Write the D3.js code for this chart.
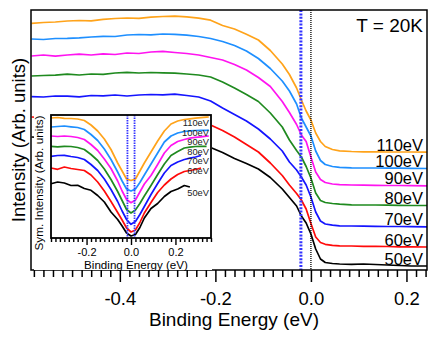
<!DOCTYPE html>
<html>
<head>
<meta charset="utf-8">
<script src="https://cdn.jsdelivr.net/npm/d3@7"></script>
<style>
  body { margin: 0; background: #fff; }
  svg { display: block; font-family: "Liberation Sans", Arial, sans-serif; }
</style>
</head>
<body>
<svg id="chart" width="442" height="339"></svg>
<script>
// ---- data: main panel (EDCs, arb. units) ----
const energyMain = [-0.585, -0.56, -0.535, -0.51, -0.485, -0.46, -0.435, -0.41, -0.385, -0.36,
  -0.335, -0.31, -0.285, -0.26, -0.235, -0.21, -0.185, -0.16, -0.135, -0.11,
  -0.085, -0.06, -0.045, -0.03, -0.02, -0.01, 0, 0.01, 0.02, 0.03,
  0.045, 0.06, 0.085, 0.11, 0.135, 0.16, 0.185, 0.21, 0.243];

const edc110 = [24.67, 24.75, 24.80, 24.90, 24.95, 24.92, 25.07, 25.15, 25.20, 25.17, 25.28, 25.35, 25.38, 25.32, 25.18, 24.98, 24.45, 24.10, 23.58, 23.00, 21.95, 20.60, 19.55, 18.20, 17.00, 15.90, 15.00, 13.70, 12.85, 12.35, 12.05, 11.92, 11.85, 11.82, 11.82, 11.80, 11.80, 11.80, 11.78];
const edc100 = [23.10, 23.05, 23.15, 23.17, 23.22, 23.30, 23.37, 23.35, 23.50, 23.55, 23.52, 23.60, 23.57, 23.48, 23.35, 23.15, 22.85, 22.45, 21.90, 21.15, 20.15, 18.90, 17.90, 16.60, 15.20, 14.30, 13.40, 11.90, 10.95, 10.55, 10.35, 10.27, 10.22, 10.20, 10.20, 10.18, 10.18, 10.17, 10.15];
const edc90 = [21.40, 21.50, 21.38, 21.50, 21.58, 21.50, 21.62, 21.55, 21.70, 21.65, 21.80, 21.87, 21.75, 21.65, 21.50, 21.25, 21.00, 20.55, 20.00, 19.25, 18.35, 16.85, 15.75, 14.55, 13.50, 12.85, 11.30, 9.80, 9.05, 8.75, 8.60, 8.53, 8.50, 8.48, 8.47, 8.45, 8.45, 8.43, 8.42];
const edc80 = [19.40, 19.45, 19.48, 19.58, 19.50, 19.60, 19.57, 19.70, 19.77, 19.70, 19.75, 19.72, 19.68, 19.60, 19.50, 19.30, 18.80, 18.20, 17.55, 16.85, 15.70, 14.30, 13.00, 11.95, 11.30, 10.35, 9.20, 7.70, 6.95, 6.75, 6.65, 6.58, 6.52, 6.50, 6.50, 6.48, 6.47, 6.45, 6.45];
const edc70 = [17.33, 17.30, 17.40, 17.38, 17.32, 17.45, 17.42, 17.50, 17.40, 17.50, 17.55, 17.52, 17.58, 17.45, 17.30, 16.90, 16.20, 15.55, 14.90, 14.10, 13.10, 11.90, 10.80, 10.00, 9.30, 8.50, 7.30, 5.80, 4.90, 4.60, 4.48, 4.42, 4.40, 4.38, 4.37, 4.35, 4.35, 4.33, 4.32];
const edc60 = [15.30, 15.25, 15.35, 15.32, 15.40, 15.35, 15.45, 15.40, 15.48, 15.42, 15.50, 15.45, 15.35, 15.15, 14.85, 14.50, 13.95, 13.30, 12.55, 11.80, 10.70, 9.45, 8.50, 7.65, 7.00, 6.10, 4.65, 3.30, 2.75, 2.57, 2.47, 2.42, 2.40, 2.37, 2.37, 2.35, 2.32, 2.32, 2.30];
const edc50 = [13.30, 13.25, 13.30, 13.35, 13.28, 13.35, 13.32, 13.40, 13.32, 13.37, 13.30, 13.35, 13.20, 13.00, 12.65, 12.25, 11.75, 11.15, 10.65, 10.10, 9.25, 8.10, 7.25, 6.40, 5.40, 4.70, 3.60, 2.10, 1.10, 0.75, 0.65, 0.60, 0.57, 0.60, 0.55, 0.50, 0.45, 0.40, 0.40];

// ---- data: inset (symmetrized) ----
const energyInset = [-0.36, -0.33, -0.3, -0.27, -0.24, -0.21, -0.18, -0.15, -0.12, -0.09,
  -0.06, -0.04, -0.02, 0, 0.02, 0.04, 0.06, 0.09, 0.12, 0.15,
  0.18, 0.21, 0.24, 0.265, 0.29, 0.315, 0.34, 0.35];

const sym110 = [12.00, 12.05, 11.97, 11.95, 11.90, 11.75, 11.30, 10.70, 9.90, 8.85, 7.50, 6.70, 5.90, 5.75, 5.90, 6.70, 7.50, 8.60, 9.70, 10.70, 11.40, 11.70, 11.85, 11.92, 11.98, 12.04, 12.08, 12.10];
const sym100 = [11.10, 11.15, 11.20, 11.12, 11.05, 10.85, 10.35, 9.75, 8.90, 7.85, 6.60, 5.70, 4.90, 4.70, 4.90, 5.55, 6.30, 7.40, 8.50, 9.60, 10.20, 10.50, 10.65, 10.72, 10.75, 10.77, 10.77, 10.80];
const sym90 = [10.20, 10.15, 10.20, 10.15, 10.05, 9.85, 9.35, 8.75, 7.90, 6.95, 5.70, 4.70, 3.85, 3.53, 3.80, 4.60, 5.40, 6.25, 7.35, 8.50, 9.25, 9.65, 9.85, 9.98, 10.07, 10.12, 10.18, 10.20];
const sym80 = [9.17, 9.12, 9.17, 9.15, 9.05, 8.85, 8.35, 7.75, 6.90, 5.85, 4.65, 3.75, 2.85, 2.50, 2.80, 3.45, 4.20, 5.25, 6.35, 7.40, 8.25, 8.65, 9.00, 9.08, 9.15, 9.17, 9.17, null];
const sym70 = [8.17, 8.25, 8.27, 8.15, 8.05, 7.85, 7.35, 6.75, 5.90, 4.85, 3.65, 2.70, 1.85, 1.37, 1.65, 2.35, 3.15, 4.35, 5.45, 6.50, 7.25, 7.60, 7.85, 7.98, 8.10, 8.25, null, null];
const sym60 = [7.00, 6.87, 7.10, 6.95, 6.85, 6.75, 6.30, 5.60, 4.70, 3.65, 2.55, 1.80, 1.00, 0.60, 0.80, 1.55, 2.50, 3.55, 4.55, 5.30, 5.90, 6.35, 6.65, 6.75, 6.85, 7.00, null, null];
const sym50 = [5.43, 5.60, 5.50, 5.25, 5.27, 4.95, 4.77, 4.25, 3.60, 2.60, 1.85, 1.20, 0.50, 0.20, 0.35, 1.05, 2.00, 2.95, 3.45, 4.15, 4.65, 4.90, 5.25, 5.10, null, null, null, null];

const photonLabels = ["110eV", "100eV", "90eV", "80eV", "70eV", "60eV", "50eV"];
const seriesColors = ["#ffa31a", "#1e8fff", "#ff14f0", "#1f8a1f", "#1414ff", "#ff0a0a", "#000000"];
const edcSeries = [edc110, edc100, edc90, edc80, edc70, edc60, edc50];
const symSeries = [sym110, sym100, sym90, sym80, sym70, sym60, sym50];

const leadingEdgeShift = -0.021;   // blue dotted marker in main panel
const insetGapEdges = [-0.016, 0.016];

const mainMajorTicks = [-0.4, -0.2, 0.0, 0.2];
const mainMajorLabels = ["-0.4", "-0.2", "0.0", "0.2"];
const insetMajorTicks = [-0.2, 0.0, 0.2];
const insetMajorLabels = ["-0.2", "0.0", "0.2"];

// ---- layout ----
const svg = d3.select("#chart");
const plot = { left: 31, right: 427, top: 10, bottom: 270 };
const x = d3.scaleLinear().domain([-0.586, 0.243]).range([plot.left, plot.right]);
const y = d3.scaleLinear().domain([0, 26]).range([plot.bottom, plot.top]);

// main curves
const edcLine = d3.line()
  .x((d, i) => x(energyMain[i]))
  .y(d => y(d));

edcSeries.forEach((s, k) => {
  svg.append("path")
    .attr("d", edcLine(s))
    .attr("fill", "none")
    .attr("stroke", seriesColors[k])
    .attr("stroke-width", 1.7)
    .attr("stroke-linejoin", "round");
});

// vertical markers
svg.append("line")
  .attr("x1", x(leadingEdgeShift)).attr("x2", x(leadingEdgeShift))
  .attr("y1", plot.top).attr("y2", plot.bottom)
  .attr("stroke", "#3434ff").attr("stroke-width", 3)
  .attr("stroke-dasharray", "2,1.4");
svg.append("line")
  .attr("x1", x(0)).attr("x2", x(0))
  .attr("y1", plot.top).attr("y2", plot.bottom)
  .attr("stroke", "#000").attr("stroke-width", 1.3)
  .attr("stroke-dasharray", "1,1");

// photon energy labels on the right
edcSeries.forEach((s, k) => {
  svg.append("text")
    .attr("x", 423)
    .attr("y", y(s[s.length - 1]) - 1.5)
    .attr("text-anchor", "end")
    .style("font-size", "16.5px")
    .text(photonLabels[k]);
});

svg.append("text")
  .attr("x", 423).attr("y", 32)
  .attr("text-anchor", "end")
  .style("font-size", "19px")
  .text("T = 20K");

// frame
svg.append("rect")
  .attr("x", plot.left).attr("y", plot.top)
  .attr("width", plot.right - plot.left).attr("height", plot.bottom - plot.top)
  .attr("fill", "none").attr("stroke", "#000").attr("stroke-width", 1.5);

// main x axis
const mainMinor = d3.range(-58, 25, 2).map(v => v / 100)
  .filter(v => !mainMajorTicks.some(m => Math.abs(m - v) < 1e-6));

const minorAxis = svg.append("g")
  .attr("transform", `translate(0,${plot.bottom})`)
  .call(d3.axisBottom(x).tickValues(mainMinor).tickSize(7).tickFormat(""));
const majorAxis = svg.append("g")
  .attr("transform", `translate(0,${plot.bottom})`)
  .call(d3.axisBottom(x).tickValues(mainMajorTicks).tickSize(12).tickPadding(10)
    .tickFormat((d, i) => mainMajorLabels[i]));
[minorAxis, majorAxis].forEach(g => {
  g.select(".domain").remove();
  g.selectAll(".tick line").attr("stroke", "#000").attr("stroke-width", 1.5);
});
majorAxis.selectAll("text")
  .attr("fill", "#000")
  .style("font-size", "18.5px")
  .style("font-family", "'Liberation Sans', Arial, sans-serif");

svg.append("text")
  .attr("x", 234).attr("y", 326)
  .attr("text-anchor", "middle")
  .style("font-size", "19px")
  .text("Binding Energy (eV)");

svg.append("text")
  .attr("transform", "translate(25,140) rotate(-90)")
  .attr("text-anchor", "middle")
  .style("font-size", "18.5px")
  .text("Intensity (Arb. units)");

// ---- inset ----
const inset = { left: 51, right: 211, top: 115, bottom: 238 };
const xi = d3.scaleLinear().domain([-0.36, 0.36]).range([inset.left, inset.right]);
const yi = d3.scaleLinear().domain([0, 12.3]).range([inset.bottom, inset.top]);

svg.append("rect")
  .attr("x", 34).attr("y", 112)
  .attr("width", inset.right + 1 - 34).attr("height", 158)
  .attr("fill", "#fff");

const symLine = d3.line()
  .defined(d => d != null)
  .x((d, i) => xi(energyInset[i]))
  .y(d => yi(d));

symSeries.forEach((s, k) => {
  svg.append("path")
    .attr("d", symLine(s))
    .attr("fill", "none")
    .attr("stroke", seriesColors[k])
    .attr("stroke-width", 1.7)
    .attr("stroke-linejoin", "round");
});

insetGapEdges.forEach(e => {
  svg.append("line")
    .attr("x1", xi(e)).attr("x2", xi(e))
    .attr("y1", inset.top).attr("y2", inset.bottom)
    .attr("stroke", "#3434ff").attr("stroke-width", 1.8)
    .attr("stroke-dasharray", "1.5,1");
});

// inset labels: just below each curve's right end, kept at most 10px apart
let prevLabelY = -Infinity;
symSeries.forEach((s, k) => {
  const last = s.filter(v => v != null);
  let ly = yi(last[last.length - 1]) + 8.5;
  if (k > 0 && k < 6) ly = Math.min(ly, prevLabelY + 10);
  prevLabelY = ly;
  svg.append("text")
    .attr("x", 209)
    .attr("y", ly)
    .attr("text-anchor", "end")
    .attr("fill", "#222")
    .style("font-size", "9.3px")
    .text(photonLabels[k]);
});

svg.append("rect")
  .attr("x", inset.left).attr("y", inset.top)
  .attr("width", inset.right - inset.left).attr("height", inset.bottom - inset.top)
  .attr("fill", "none").attr("stroke", "#000").attr("stroke-width", 1.8);

const insetMinor = d3.range(-36, 37, 2).map(v => v / 100)
  .filter(v => !insetMajorTicks.some(m => Math.abs(m - v) < 1e-6));
const iMinor = svg.append("g")
  .attr("transform", `translate(0,${inset.bottom})`)
  .call(d3.axisBottom(xi).tickValues(insetMinor).tickSize(4).tickFormat(""));
const iMajor = svg.append("g")
  .attr("transform", `translate(0,${inset.bottom})`)
  .call(d3.axisBottom(xi).tickValues(insetMajorTicks).tickSize(7).tickPadding(3)
    .tickFormat((d, i) => insetMajorLabels[i]));
[iMinor, iMajor].forEach(g => {
  g.select(".domain").remove();
  g.selectAll(".tick line").attr("stroke", "#000").attr("stroke-width", 1.4);
});
iMajor.selectAll("text")
  .attr("fill", "#000")
  .style("font-size", "11px")
  .style("font-family", "'Liberation Sans', Arial, sans-serif");

svg.append("text")
  .attr("x", 136).attr("y", 268.5)
  .attr("text-anchor", "middle")
  .style("font-size", "11.6px")
  .text("Binding Energy (eV)");

svg.append("text")
  .attr("transform", "translate(43,183) rotate(-90)")
  .attr("text-anchor", "middle")
  .style("font-size", "11.8px")
  .text("Sym. Intensity (Arb. units)");
</script>
</body>
</html>
